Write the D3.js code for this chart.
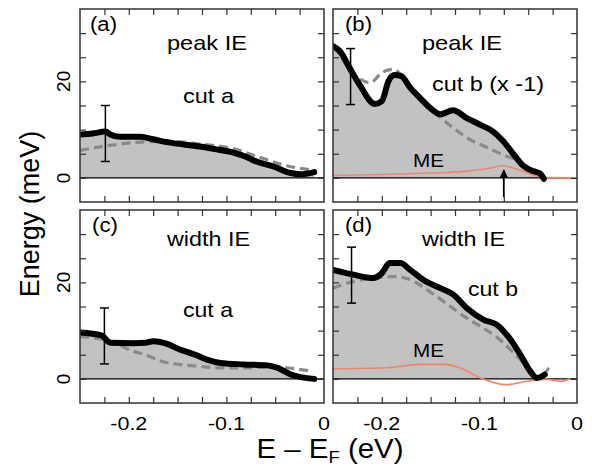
<!DOCTYPE html>
<html>
<head>
<meta charset="utf-8">
<script src="https://cdn.jsdelivr.net/npm/d3@7"></script>
<style>
  body { margin: 0; background: #fff; }
  svg { display: block; }
  text { font-family: "Liberation Sans", Arial, sans-serif; fill: #000; }
</style>
</head>
<body>
<svg id="chart" width="592" height="469"></svg>
<script>
// ---------------- data (energy in eV, values in meV) ----------------
const peakA_solid = [[-0.25,9.0],[-0.237,9.2],[-0.224,9.6],[-0.219,9.0],[-0.209,8.5],[-0.188,8.5],[-0.175,8.0],[-0.161,7.4],[-0.127,6.5],[-0.110,5.9],[-0.092,5.2],[-0.080,4.4],[-0.072,3.6],[-0.051,2.3],[-0.034,1.0],[-0.024,0.75],[-0.010,1.2]];
const peakA_dash  = [[-0.25,5.7],[-0.224,6.6],[-0.195,7.3],[-0.161,7.6],[-0.127,7.0],[-0.092,6.0],[-0.065,4.2],[-0.038,2.5],[-0.012,1.6]];

const peakB_solid = [[-0.25,27.3],[-0.243,26.3],[-0.233,22.8],[-0.223,19.4],[-0.207,15.3],[-0.200,15.9],[-0.193,20.1],[-0.187,21.3],[-0.180,21.1],[-0.171,18.7],[-0.161,16.6],[-0.151,14.6],[-0.140,13.2],[-0.127,14.0],[-0.113,12.4],[-0.099,11.0],[-0.086,9.6],[-0.076,7.7],[-0.065,4.9],[-0.055,2.5],[-0.045,1.4],[-0.038,0.9],[-0.034,-0.2]];
const peakB_dash  = [[-0.25,27.0],[-0.243,25.5],[-0.233,22.3],[-0.223,20.6],[-0.212,19.7],[-0.200,21.8],[-0.188,22.5],[-0.180,21.3],[-0.171,18.9],[-0.161,16.6],[-0.144,13.2],[-0.127,10.4],[-0.110,8.0],[-0.092,6.3],[-0.076,4.8],[-0.062,3.7],[-0.048,1.8],[-0.034,0.4]];
const peakB_ME    = [[-0.25,0.5],[-0.20,0.7],[-0.15,1.0],[-0.11,1.45],[-0.09,2.0],[-0.076,2.5],[-0.066,2.1],[-0.058,1.6],[-0.045,0.6],[-0.031,0.05],[0,0]];

const widthC_solid = [[-0.25,9.6],[-0.228,9.0],[-0.219,7.5],[-0.195,7.4],[-0.183,7.5],[-0.175,7.8],[-0.160,7.2],[-0.149,6.2],[-0.132,5.0],[-0.120,4.0],[-0.106,3.3],[-0.082,3.0],[-0.058,2.8],[-0.048,2.3],[-0.034,0.9],[-0.010,0.0]];
const widthC_dash  = [[-0.25,8.8],[-0.219,7.8],[-0.195,5.7],[-0.183,5.0],[-0.166,3.6],[-0.149,3.0],[-0.122,2.5],[-0.110,2.3],[-0.075,2.3],[-0.050,2.6],[-0.038,2.3],[-0.012,1.6]];

const widthD_solid = [[-0.25,22.6],[-0.229,21.6],[-0.209,20.9],[-0.200,21.9],[-0.192,24.0],[-0.181,24.0],[-0.171,22.6],[-0.158,20.6],[-0.140,18.8],[-0.127,17.5],[-0.113,14.7],[-0.096,12.3],[-0.082,11.2],[-0.068,8.1],[-0.058,5.0],[-0.048,1.6],[-0.041,0.2],[-0.033,0.9]];
const widthD_dash  = [[-0.25,18.8],[-0.229,20.2],[-0.209,20.9],[-0.188,21.2],[-0.171,20.6],[-0.154,18.5],[-0.137,16.1],[-0.116,13.0],[-0.099,10.9],[-0.079,8.1],[-0.065,5.4],[-0.051,2.6],[-0.038,0.2],[-0.029,2.3]];
const widthD_ME    = [[-0.25,2.1],[-0.195,2.3],[-0.161,3.0],[-0.137,3.0],[-0.120,2.3],[-0.099,0.2],[-0.072,-1.2],[-0.051,-0.5],[-0.031,-0.1],[-0.017,-0.5],[-0.007,0]];

// error bars: [x, centre, half-length]
const errA = [-0.224, 9.2, 5.8];
const errB = [-0.232, 21.0, 5.8];
const errC = [-0.225, 8.9, 5.8];
const errD = [-0.231, 21.5, 5.8];

// arrow in panel (b): [x, from, to]
const arrowB = [-0.075, -4.0, 1.6];

const xTicksLabeled = [-0.2, -0.1, 0];
const xTickText = ["-0.2", "-0.1", "0"];
const yTicksLabeled = [0, 20];
const xDomain = [-0.25, 0];
const yDomain = [-5, 35];

// ---------------- layout ----------------
const svg = d3.select("#chart");
const defs = svg.append("defs");
defs.append("marker").attr("id","arrowhead").attr("viewBox","0 0 10 10")
  .attr("refX",9).attr("refY",5).attr("markerWidth",5).attr("markerHeight",6)
  .attr("orient","auto")
  .append("path").attr("d","M0,0 L10,5 L0,10 z").attr("fill","#000");

// label placement: [text, left x, baseline y, width, font-size]
const panelDefs = [
  {left:80,  top:9, solid:peakA_solid, dash:peakA_dash, me:null, err:errA, xLab:false, yLab:true,
   labels:[["(a)",90,31,27,20],["peak IE",167,50,80,21],["cut a",183,103,51,21]]},
  {left:333, top:9, solid:peakB_solid, dash:peakB_dash, me:peakB_ME, err:errB, xLab:false, yLab:false, arrow:arrowB,
   labels:[["(b)",345,31,27,20],["peak IE",422,50,80,21],["cut b (x -1)",432,91,112,21],["ME",413,166.5,31,19]]},
  {left:80,  top:210, solid:widthC_solid, dash:widthC_dash, me:null, err:errC, xLab:true, yLab:true,
   labels:[["(c)",92,232,26,20],["width IE",167,246,83,21],["cut a",183,317,50,21]]},
  {left:333, top:210, solid:widthD_solid, dash:widthD_dash, me:widthD_ME, err:errD, xLab:true, yLab:false,
   labels:[["(d)",345,232,27,20],["width IE",422,246,83,21],["cut b",468,296,50,21],["ME",413,356.5,31,19]]}
];
const PW = 244, PH = 193;

panelDefs.forEach((p, i) => {
  const x = d3.scaleLinear().domain(xDomain).range([p.left, p.left + PW]);
  const y = d3.scaleLinear().domain(yDomain).range([p.top + PH, p.top]);
  const g = svg.append("g");
  const clipId = "clip" + i;
  defs.append("clipPath").attr("id", clipId).append("rect")
    .attr("x", p.left).attr("y", p.top).attr("width", PW).attr("height", PH);
  const gc = g.append("g").attr("clip-path", `url(#${clipId})`);

  const area = d3.area().x(d => x(d[0])).y0(y(0)).y1(d => y(d[1])).curve(d3.curveMonotoneX);
  const line = d3.line().x(d => x(d[0])).y(d => y(d[1])).curve(d3.curveMonotoneX);

  gc.append("path").datum(p.solid).attr("d", area).attr("fill", "#c2c2c2");
  gc.append("line").attr("x1", x(xDomain[0])).attr("x2", x(xDomain[1]))
    .attr("y1", y(0)).attr("y2", y(0)).attr("stroke", "#000").attr("stroke-width", 1.4);
  if (p.me) {
    gc.append("path").datum(p.me).attr("d", line).attr("fill", "none")
      .attr("stroke", "#f4836b").attr("stroke-width", 1.6);
  }
  gc.append("path").datum(p.dash).attr("d", line).attr("fill", "none")
    .attr("stroke", "#8a8a8a").attr("stroke-width", 3.2).attr("stroke-dasharray", "9,5");
  gc.append("path").datum(p.solid).attr("d", line).attr("fill", "none")
    .attr("stroke", "#000").attr("stroke-width", 6).attr("stroke-linejoin", "round").attr("stroke-linecap", "round");

  // error bar
  const [ex, ec, eh] = p.err;
  const eb = g.append("g").attr("stroke", "#000").attr("stroke-width", 1.5);
  eb.append("line").attr("x1", x(ex)).attr("x2", x(ex)).attr("y1", y(ec - eh)).attr("y2", y(ec + eh));
  [ec - eh, ec + eh].forEach(v => eb.append("line")
    .attr("x1", x(ex) - 4.5).attr("x2", x(ex) + 4.5).attr("y1", y(v)).attr("y2", y(v)));

  if (p.arrow) {
    g.append("line").attr("x1", x(p.arrow[0])).attr("x2", x(p.arrow[0]))
      .attr("y1", y(p.arrow[1])).attr("y2", y(p.arrow[2]))
      .attr("stroke", "#000").attr("stroke-width", 1.8).attr("marker-end", "url(#arrowhead)");
  }

  // axes with inward ticks
  const minorX = d3.range(-0.225, -0.001, 0.025);
  const minorY = d3.range(-5, 35.1, 5).filter(v => v > -5 && v < 35);
  const tl = 6;
  const axB = g.append("g").attr("transform", `translate(0,${p.top + PH})`)
    .call(d3.axisBottom(x).tickValues(minorX).tickSize(-tl).tickFormat(""));
  const axT = g.append("g").attr("transform", `translate(0,${p.top})`)
    .call(d3.axisTop(x).tickValues(minorX).tickSize(-tl).tickFormat(""));
  const axL = g.append("g").attr("transform", `translate(${p.left},0)`)
    .call(d3.axisLeft(y).tickValues(minorY).tickSize(-tl).tickFormat(""));
  const axR = g.append("g").attr("transform", `translate(${p.left + PW},0)`)
    .call(d3.axisRight(y).tickValues(minorY).tickSize(-tl).tickFormat(""));
  [axB, axT, axL, axR].forEach(a => {
    a.select(".domain").remove();
    a.selectAll("line").attr("stroke", "#333").attr("stroke-width", 1.2);
  });
  g.append("rect").attr("x", p.left).attr("y", p.top).attr("width", PW).attr("height", PH)
    .attr("fill", "none").attr("stroke", "#333").attr("stroke-width", 1.5);

  if (p.xLab) {
    xTicksLabeled.forEach((v, k) => {
      const t = g.append("text").attr("x", x(v)).attr("y", p.top + PH + 27)
        .attr("text-anchor", "middle").attr("font-size", 18).text(xTickText[k]);
      t.attr("textLength", v === 0 ? 12 : 37).attr("lengthAdjust", "spacingAndGlyphs");
    });
  }
  if (p.yLab) {
    yTicksLabeled.forEach(v => g.append("text")
      .attr("transform", `translate(${p.left - 10},${y(v)}) rotate(-90)`)
      .attr("text-anchor", "middle").attr("font-size", 19).text(String(v)));
  }

  p.labels.forEach(([txt, lx, ly, w, fs]) => {
    g.append("text").attr("x", lx).attr("y", ly).attr("font-size", fs)
      .attr("textLength", w).attr("lengthAdjust", "spacingAndGlyphs").text(txt);
  });
});

// axis titles
svg.append("text").attr("transform", "translate(39,214) rotate(-90)")
  .attr("text-anchor", "middle").attr("font-size", 27).text("Energy (meV)");
const xt = svg.append("text").attr("transform", "translate(330,458) scale(1.09,1)")
  .attr("text-anchor", "middle").attr("font-size", 27);
xt.append("tspan").text("E \u2013 E");
xt.append("tspan").attr("font-size", 17).attr("dy", 5).text("F");
xt.append("tspan").attr("dy", -5).text(" (eV)");
</script>
</body>
</html>
